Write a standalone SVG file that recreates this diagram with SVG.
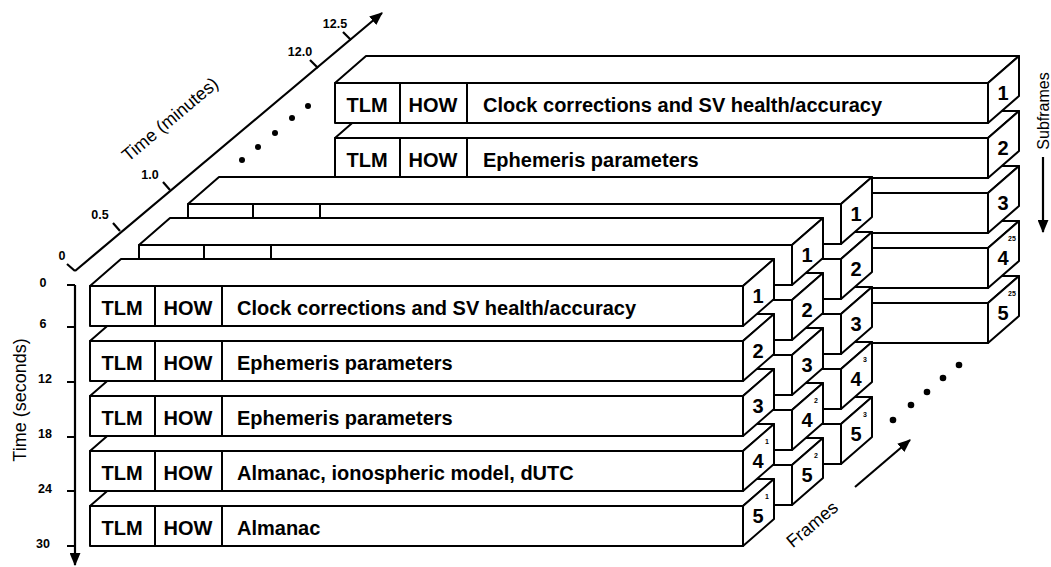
<svg xmlns="http://www.w3.org/2000/svg" xmlns:xlink="http://www.w3.org/1999/xlink" width="1051" height="567" viewBox="0 0 1051 567">
<style>
.bx polygon,.bx rect{fill:#fff;stroke:#000;stroke-width:2;stroke-linejoin:round}
.bx line{stroke:#000;stroke-width:2}
.t{font-family:"Liberation Sans",Arial,sans-serif;font-weight:bold;font-size:20px;fill:#000}
.n{font-family:"Liberation Sans",Arial,sans-serif;font-weight:bold;font-size:20px;fill:#000;text-anchor:middle}
.c{text-anchor:middle}
.sup{font-family:"Liberation Sans",Arial,sans-serif;font-weight:bold;font-size:7px;fill:#000;text-anchor:middle}
.lab{font-family:"Liberation Sans",Arial,sans-serif;font-size:18px;fill:#000;text-anchor:middle}
.tk{font-family:"Liberation Sans",Arial,sans-serif;font-weight:bold;font-size:12.5px;fill:#000;text-anchor:middle}
.ax{stroke:#000;stroke-width:2.2;fill:none}
.dot{fill:#000}
</style>
<defs>
<g id="box" class="bx">
<polygon points="0,0 31,-27 684,-27 653,0"/>
<rect x="0" y="0" width="653" height="40"/>
<polygon points="653,0 684,-27 684,13 653,40"/>
<line x1="65" y1="0" x2="65" y2="40"/>
<line x1="132" y1="0" x2="132" y2="40"/>
</g>
<marker id="ah" viewBox="0 0 12 10" refX="11" refY="5" markerWidth="6" markerHeight="5" orient="auto" markerUnits="strokeWidth">
<path d="M0,0 L12,5 L0,10 Z" fill="#000"/>
</marker>
</defs>

<!-- Back frame (25) -->
<g id="fb-sf5"><use xlink:href="#box" x="335" y="303"/><text class="n" x="1003" y="320">5</text><text class="sup" x="1012" y="296">25</text></g>
<g id="fb-sf4"><use xlink:href="#box" x="335" y="248"/><text class="n" x="1003" y="265">4</text><text class="sup" x="1012" y="241">25</text></g>
<g id="fb-sf3"><use xlink:href="#box" x="335" y="193"/><text class="n" x="1003" y="210">3</text></g>
<g id="fb-sf2"><use xlink:href="#box" x="335" y="138"/><text class="t c" x="367" y="167">TLM</text><text class="t c" x="433" y="167">HOW</text><text class="t" x="483" y="167">Ephemeris parameters</text><text class="n" x="1003" y="155">2</text></g>
<g id="fb-sf1"><use xlink:href="#box" x="335" y="83"/><text class="t c" x="367" y="112">TLM</text><text class="t c" x="433" y="112">HOW</text><text class="t" x="483" y="112">Clock corrections and SV health/accuracy</text><text class="n" x="1003" y="100">1</text></g>

<!-- Frame 3 -->
<g id="f3-sf5"><use xlink:href="#box" x="188" y="424"/><text class="n" x="856" y="441">5</text><text class="sup" x="865" y="417">3</text></g>
<g id="f3-sf4"><use xlink:href="#box" x="188" y="369"/><text class="n" x="856" y="386">4</text><text class="sup" x="865" y="362">3</text></g>
<g id="f3-sf3"><use xlink:href="#box" x="188" y="314"/><text class="n" x="856" y="331">3</text></g>
<g id="f3-sf2"><use xlink:href="#box" x="188" y="259"/><text class="n" x="856" y="276">2</text></g>
<g id="f3-sf1"><use xlink:href="#box" x="188" y="204"/><text class="n" x="856" y="221">1</text></g>

<!-- Frame 2 -->
<g id="f2-sf5"><use xlink:href="#box" x="139" y="465"/><text class="n" x="807" y="482">5</text><text class="sup" x="816" y="458">2</text></g>
<g id="f2-sf4"><use xlink:href="#box" x="139" y="410"/><text class="n" x="807" y="427">4</text><text class="sup" x="816" y="403">2</text></g>
<g id="f2-sf3"><use xlink:href="#box" x="139" y="355"/><text class="n" x="807" y="372">3</text></g>
<g id="f2-sf2"><use xlink:href="#box" x="139" y="300"/><text class="n" x="807" y="317">2</text></g>
<g id="f2-sf1"><use xlink:href="#box" x="139" y="245"/><text class="n" x="807" y="262">1</text></g>

<!-- Frame 1 -->
<g id="f1-sf5"><use xlink:href="#box" x="90" y="506"/><text class="t c" x="122" y="535">TLM</text><text class="t c" x="188" y="535">HOW</text><text class="t" x="237" y="535">Almanac</text><text class="n" x="758" y="523">5</text><text class="sup" x="767" y="499">1</text></g>
<g id="f1-sf4"><use xlink:href="#box" x="90" y="451"/><text class="t c" x="122" y="480">TLM</text><text class="t c" x="188" y="480">HOW</text><text class="t" x="237" y="480">Almanac, ionospheric model, dUTC</text><text class="n" x="758" y="468">4</text><text class="sup" x="767" y="444">1</text></g>
<g id="f1-sf3"><use xlink:href="#box" x="90" y="396"/><text class="t c" x="122" y="425">TLM</text><text class="t c" x="188" y="425">HOW</text><text class="t" x="237" y="425">Ephemeris parameters</text><text class="n" x="758" y="413">3</text></g>
<g id="f1-sf2"><use xlink:href="#box" x="90" y="341"/><text class="t c" x="122" y="370">TLM</text><text class="t c" x="188" y="370">HOW</text><text class="t" x="237" y="370">Ephemeris parameters</text><text class="n" x="758" y="358">2</text></g>
<g id="f1-sf1"><use xlink:href="#box" x="90" y="286"/><text class="t c" x="122" y="315">TLM</text><text class="t c" x="188" y="315">HOW</text><text class="t" x="237" y="315">Clock corrections and SV health/accuracy</text><text class="n" x="758" y="303">1</text></g>

<!-- Connectors / axes -->
<g id="connectors">
<line class="ax" x1="75" y1="285" x2="75" y2="565" marker-end="url(#ah)"/>
<path class="ax" d="M67,285 H75 M67,327 H75 M67,382 H75 M67,437 H75 M67,491 H75 M67,546 H75"/>
<line class="ax" x1="75" y1="271" x2="382" y2="13" marker-end="url(#ah)"/>
<path class="ax" d="M67,264 L75,271 M113,223 L120,231 M163,182 L170,190 M310,60 L318,68 M343,32 L351,40"/>
<line class="ax" x1="1043" y1="157" x2="1043" y2="232" marker-end="url(#ah)"/>
<line class="ax" x1="855" y1="487" x2="910" y2="440" marker-end="url(#ah)"/>
</g>

<g id="dots">
<circle class="dot" cx="242" cy="160" r="3"/>
<circle class="dot" cx="258" cy="147" r="3"/>
<circle class="dot" cx="275" cy="133" r="3"/>
<circle class="dot" cx="292" cy="118" r="3"/>
<circle class="dot" cx="308" cy="106" r="3"/>
<circle class="dot" cx="893" cy="420" r="3.3"/>
<circle class="dot" cx="911" cy="405" r="3.3"/>
<circle class="dot" cx="927" cy="392" r="3.3"/>
<circle class="dot" cx="943" cy="378" r="3.3"/>
<circle class="dot" cx="959" cy="365" r="3.3"/>
</g>

<g id="labels">
<text class="tk" x="43" y="287">0</text>
<text class="tk" x="43" y="328">6</text>
<text class="tk" x="45" y="383">12</text>
<text class="tk" x="45" y="438">18</text>
<text class="tk" x="45" y="493">24</text>
<text class="tk" x="43" y="548">30</text>
<text class="tk" x="62" y="260">0</text>
<text class="tk" x="100" y="219">0.5</text>
<text class="tk" x="150" y="179">1.0</text>
<text class="tk" x="300" y="56">12.0</text>
<text class="tk" x="335" y="28">12.5</text>
<text class="lab" transform="translate(26,400) rotate(-90)">Time (seconds)</text>
<text class="lab" transform="translate(174,124) rotate(-40)">Time (minutes)</text>
<text class="lab" transform="translate(816,529) rotate(-40)">Frames</text>
<text class="lab" style="font-size:16px" transform="translate(1049,111) rotate(-90)">Subframes</text>
</g>
</svg>
